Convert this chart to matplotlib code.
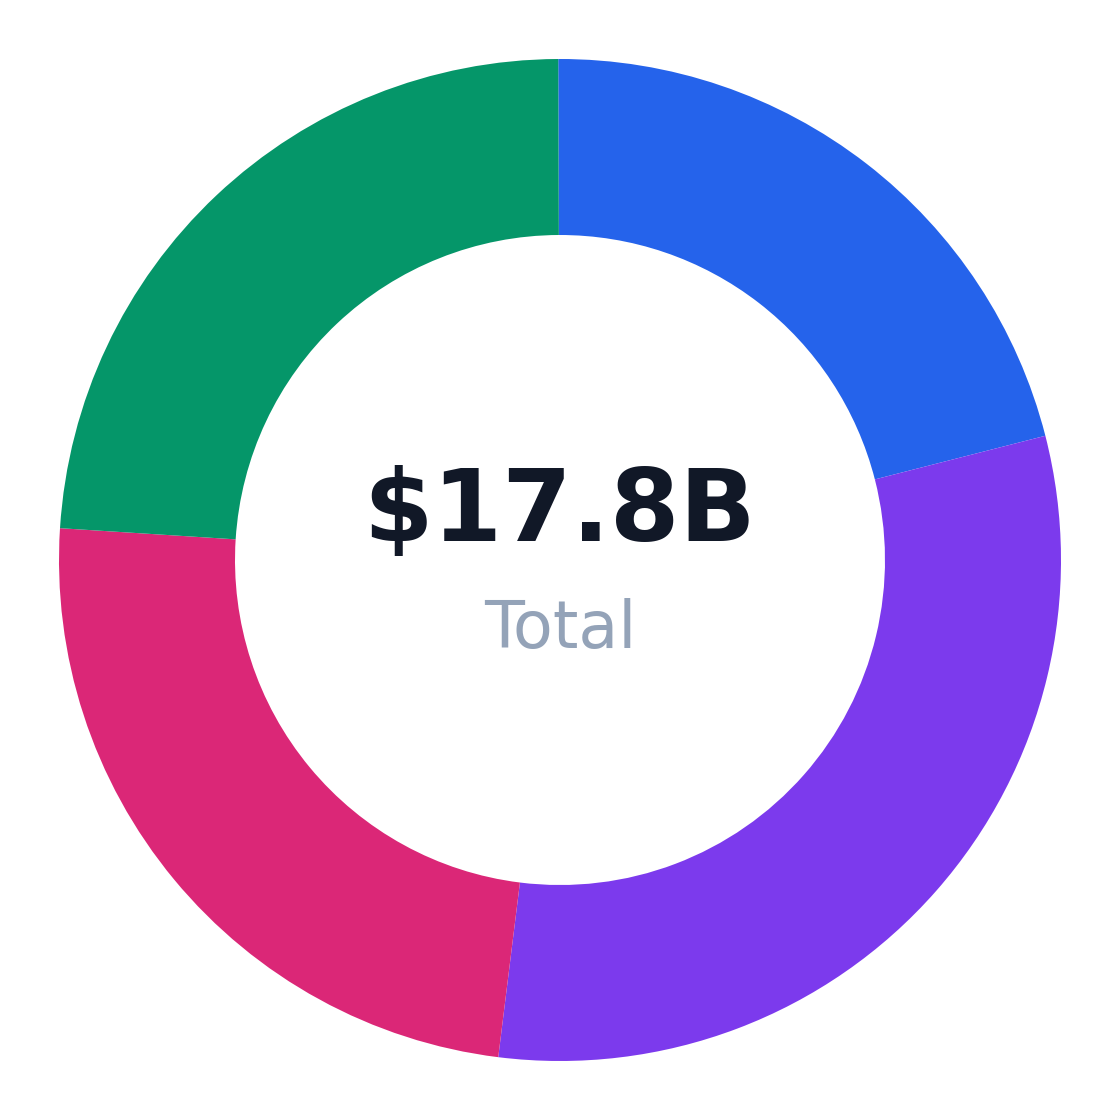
import matplotlib
matplotlib.use("Agg")
import matplotlib.pyplot as plt

# segment values in $B, clockwise from the top
segments = ["Blue", "Purple", "Pink", "Green"]
values = [3.75, 5.51, 4.28, 4.26]
colors = ["#2563eb", "#7c3aed", "#db2777", "#059669"]
total_label = "$17.8B"
sub_label = "Total"

fig = plt.figure(figsize=(11.2, 11.2), dpi=100)
ax = fig.add_axes([0, 0, 1, 1])

outer = 1.0
ring = 176 / 501
ax.pie(values, colors=colors, startangle=90.2, counterclock=False, radius=outer,
       wedgeprops=dict(width=ring, linewidth=0))

ax.text(0, 0.038, total_label, ha="center", va="baseline", fontsize=72,
        fontweight="bold", color="#111827")
ax.text(0, -0.176, sub_label, ha="center", va="baseline", fontsize=47,
        color="#94a3b8")

lim = 560 / 501
ax.set_xlim(-lim, lim)
ax.set_ylim(-lim, lim)
ax.set_aspect("equal")
ax.axis("off")

fig.savefig("out.png", dpi=100, facecolor="white")
